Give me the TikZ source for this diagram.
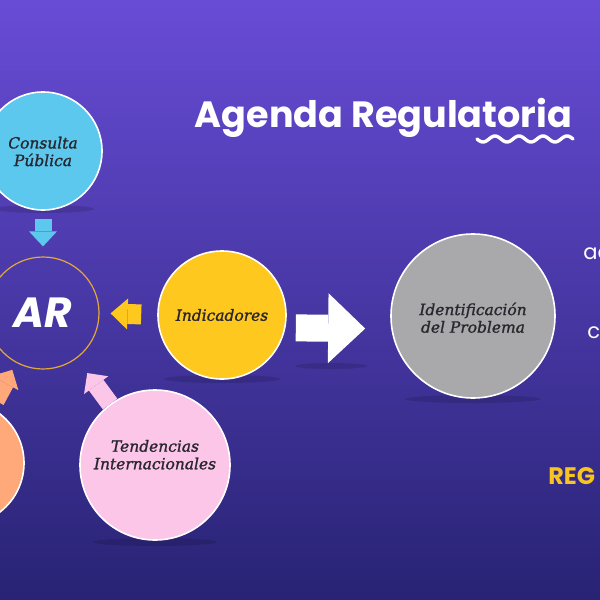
\documentclass[tikz,border=0pt]{standalone}
\usepackage{fontspec}
\usetikzlibrary{arrows.meta}
\newfontfamily\headfont{Poppins}
\newfontfamily\labelfont{DejaVu Serif}[FakeBold=1.2]
\definecolor{bgtop}{RGB}{104,76,214}
\definecolor{bgmid}{RGB}{72,56,172}
\definecolor{bgbot}{RGB}{40,35,116}
\definecolor{cpblue}{RGB}{92,200,238}
\definecolor{indyellow}{RGB}{255,200,30}
\definecolor{probgray}{RGB}{169,168,170}
\definecolor{tendpink}{RGB}{252,198,233}
\definecolor{otherorange}{RGB}{255,168,122}
\definecolor{argold}{RGB}{226,168,58}
\definecolor{reggold}{RGB}{248,197,32}
\definecolor{inktext}{RGB}{40,38,46}
\begin{document}
\begin{tikzpicture}[
        x=0.25mm, y=-0.25mm,
        bubble/.style={circle, draw=white, line width=0.4mm, inner sep=0pt, align=center,
            text=inktext, font=\labelfont\itshape\fontsize{11}{12.5}\selectfont},
        floorshadow/.style={fill=black, opacity=0.13},
        bluearrow/.style={draw=cpblue, line width=4.25mm,
            -{Triangle[width=7mm, length=3.75mm, line width=0pt]}},
        yellowarrow/.style={draw=indyellow, line width=5mm,
            -{Triangle[width=7.75mm, length=4.25mm, line width=0pt]}},
        whitearrow/.style={draw=white, line width=6.75mm,
            -{Triangle[width=17.5mm, length=9.25mm, line width=0pt]}},
        pinkarrow/.style={draw=tendpink, line width=4.5mm,
            -{Triangle[width=7.5mm, length=3.75mm, line width=0pt]}},
        orangearrow/.style={draw=otherorange, line width=4.5mm,
            -{Triangle[width=7.5mm, length=3.75mm, line width=0pt]}}
    ]
        \useasboundingbox (0,0) rectangle (600,600);
        \clip (0,0) rectangle (600,600);
        \shade[top color=bgtop, middle color=bgmid, bottom color=bgbot] (0,0) rectangle (600,600);

        \fill[floorshadow] (44,209) ellipse (50 and 4);
        \fill[floorshadow] (222,379) ellipse (58 and 4);
        \fill[floorshadow] (331,366) ellipse (36 and 3);
        \fill[floorshadow] (473,399) ellipse (68 and 4);
        \fill[floorshadow] (155,542) ellipse (62 and 4);

        \node[font=\headfont\bfseries\fontsize{26}{30}\selectfont, text=white, anchor=base west]
            (title) at (190,127) {Agenda Regulatoria};
        \draw[white, line width=0.85mm, line cap=round]
            plot[domain=477:573, samples=97] (\x, {139+3*sin(15*(\x-477))});

        \node[bubble, fill=cpblue, minimum size=29.5mm] (cp) at (43,151) {\\[-0.6ex]Consulta\\Pública};
        \node[circle, draw=argold, line width=0.3mm, minimum size=28mm, inner sep=0pt,
            text=white, font=\headfont\bfseries\itshape\fontsize{30}{32}\selectfont] (ar) at (43,313) {AR};
        \node[bubble, fill=indyellow, minimum size=32mm] (ind) at (222,315) {Indicadores};
        \node[bubble, fill=probgray, minimum size=41mm] (idp) at (473,316) {\\[-0.2ex]Identificación\\del Problema};
        \node[bubble, fill=tendpink, minimum size=37.5mm] (tend) at (155,465) {Tendencias\\Internacionales\\[0.4ex]};
        \node[bubble, fill=otherorange, minimum size=31mm] (orng) at (-38,463) {};

        \draw[bluearrow, shorten <=2mm, shorten >=2.5mm] (cp.south) -- (ar.north);
        \draw[yellowarrow, shorten <=4mm, shorten >=2.75mm] (ind.west) -- (ar.east);
        \draw[whitearrow, shorten <=2.25mm, shorten >=6.25mm]
            ([yshift=-3.2mm]ind.east) -- ([yshift=-3.2mm]idp.west);
        \draw[pinkarrow, shorten <=0mm, shorten >=4.5mm] (tend) -- (ar);
        \draw[orangearrow, shorten <=2mm, shorten >=2mm] (orng) -- (ar);

        \node[anchor=base west, inner sep=0pt, text=white, font=\headfont\fontsize{15}{17}\selectfont]
            (txta) at (583,259) {ac};
        \node[anchor=base west, inner sep=0pt, text=white, font=\headfont\fontsize{15}{17}\selectfont]
            (txtb) at (587,338) {co};
        \node[anchor=base west, inner sep=0pt, text=reggold, font=\headfont\bfseries\fontsize{17}{19}\selectfont]
            (reg) at (548,484) {REG};
    \end{tikzpicture}
\end{document}
